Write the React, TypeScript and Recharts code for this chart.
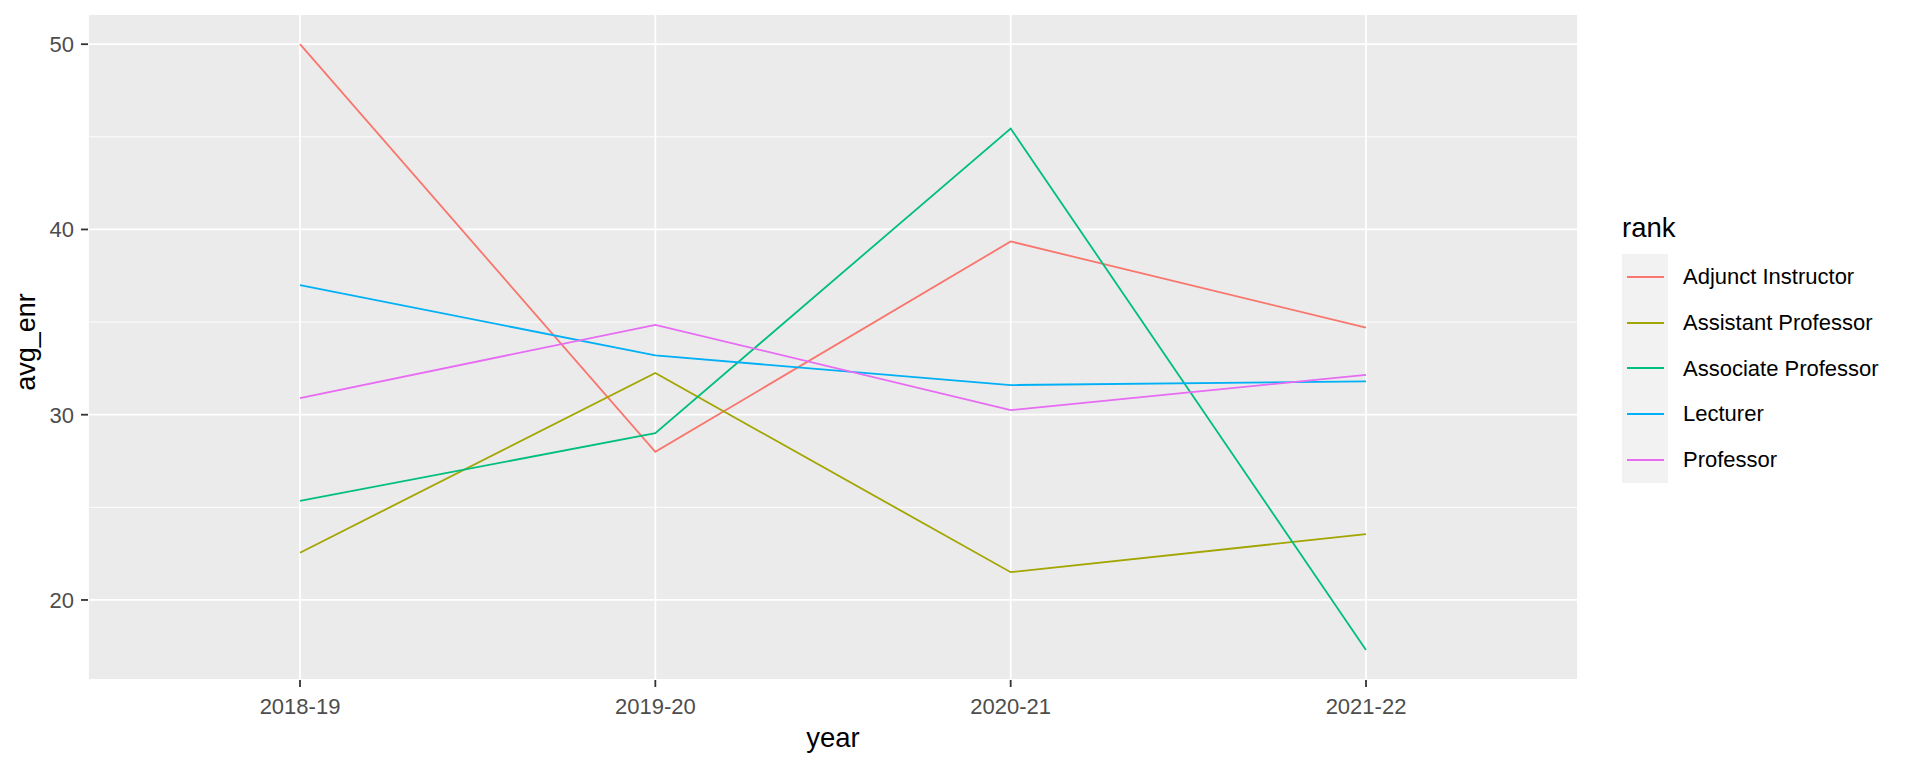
import { LineChart, Line, XAxis, YAxis, CartesianGrid, Legend } from 'recharts'

const years = ['2018-19', '2019-20', '2020-21', '2021-22']

const adjunctInstructor = [50.0, 28.0, 39.35, 34.7]
const assistantProfessor = [22.55, 32.25, 21.5, 23.55]
const associateProfessor = [25.35, 29.0, 45.45, 17.3]
const lecturer = [37.0, 33.2, 31.6, 31.8]
const professor = [30.9, 34.85, 30.25, 32.15]

const yTicks = [20, 30, 40, 50]
const yMinorTicks = [25, 35, 45]

const SERIES = [
  { key: 'adjunct', name: 'Adjunct Instructor', color: '#F8766D', values: adjunctInstructor },
  { key: 'assistant', name: 'Assistant Professor', color: '#A3A500', values: assistantProfessor },
  { key: 'associate', name: 'Associate Professor', color: '#00BF7D', values: associateProfessor },
  { key: 'lecturer', name: 'Lecturer', color: '#00B0F6', values: lecturer },
  { key: 'professor', name: 'Professor', color: '#E76BF3', values: professor },
]

const data = years.map((year, i) => {
  const row: Record<string, string | number> = { year }
  SERIES.forEach((s) => {
    row[s.key] = s.values[i]
  })
  return row
})

const FONT = '"Liberation Sans", Arial, sans-serif'

// ggplot-style rotated y title
function YTitle(props: any) {
  const { viewBox } = props
  const cx = viewBox.x + 35
  const cy = viewBox.y + viewBox.height / 2 - 5
  return (
    <text
      x={cx}
      y={cy}
      transform={`rotate(-90, ${cx}, ${cy})`}
      textAnchor="middle"
      fontSize={27}
      fontFamily={FONT}
      fill="#000"
    >
      avg_enr
    </text>
  )
}

function RankLegend() {
  return (
    <div style={{ fontFamily: FONT, color: '#000' }}>
      <div style={{ fontSize: 27.5, lineHeight: '32px', height: 42 }}>rank</div>
      {SERIES.map((s) => (
        <div key={s.key} style={{ display: 'flex', height: 45.8, alignItems: 'center' }}>
          <div
            style={{
              width: 46,
              height: 45.8,
              background: '#F2F2F2',
              display: 'flex',
              alignItems: 'center',
              justifyContent: 'center',
            }}
          >
            <div style={{ width: 37, height: 2, background: s.color }} />
          </div>
          <span style={{ marginLeft: 15, fontSize: 22, lineHeight: '45.8px', whiteSpace: 'nowrap' }}>
            {s.name}
          </span>
        </div>
      ))}
    </div>
  )
}

export default function App() {
  return (
    <div style={{ position: 'absolute', left: 0, top: 0, width: 1920, height: 768, background: '#fff' }}>
      <LineChart
        width={1920}
        height={768}
        data={data}
        margin={{ top: 14, right: 342, bottom: 0, left: 0 }}
        style={{ fontFamily: FONT }}
      >
        <CartesianGrid fill="#EBEBEB" stroke="#FFFFFF" strokeWidth={1.8} />
        <CartesianGrid
          vertical={false}
          horizontalValues={yMinorTicks}
          stroke="#FFFFFF"
          strokeWidth={0.9}
        />
        <XAxis
          dataKey="year"
          height={88}
          padding={{ left: 212, right: 212 }}
          axisLine={false}
          tickLine={{ stroke: '#333333', strokeWidth: 1.8 }}
          tickSize={7}
          tickMargin={11}
          tick={{ fill: '#4D4D4D', fontSize: 22, fontFamily: FONT }}
          label={{ value: 'year', position: 'insideBottom', offset: 21, fill: '#000', fontSize: 27.5, fontFamily: FONT }}
        />
        <YAxis
          width={88}
          type="number"
          domain={[15.68, 51.63]}
          ticks={yTicks}
          allowDataOverflow
          axisLine={false}
          tickLine={{ stroke: '#333333', strokeWidth: 1.8 }}
          tickSize={7}
          tickMargin={7}
          tick={{ fill: '#4D4D4D', fontSize: 22, fontFamily: FONT }}
          label={{ content: YTitle }}
        />
        <Legend
          layout="horizontal"
          verticalAlign="middle"
          align="center"
          content={RankLegend}
          wrapperStyle={{ left: 1622, top: 212, width: 300, height: 280 }}
        />
        {SERIES.map((s) => (
          <Line
            key={s.key}
            type="linear"
            dataKey={s.key}
            name={s.name}
            stroke={s.color}
            strokeWidth={1.8}
            dot={false}
            activeDot={false}
            isAnimationActive={false}
          />
        ))}
      </LineChart>
    </div>
  )
}
